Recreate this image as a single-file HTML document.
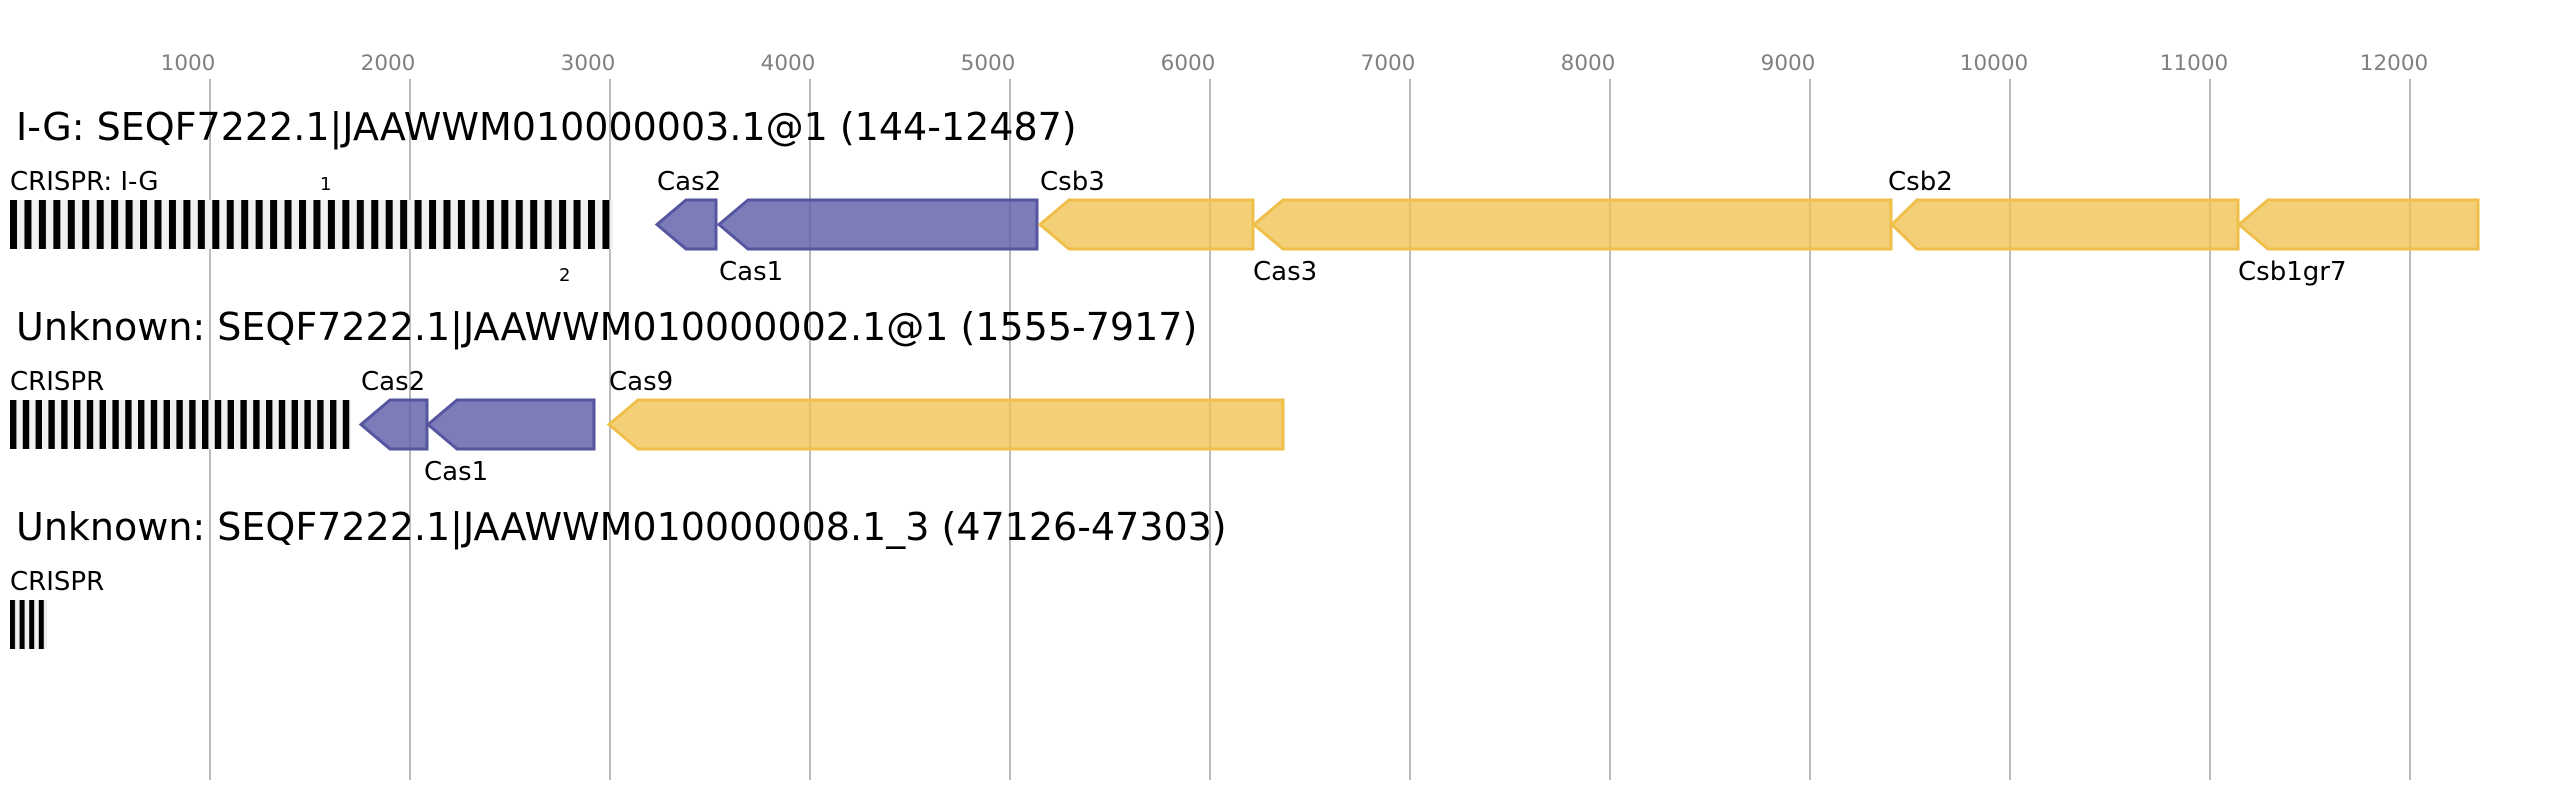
<!DOCTYPE html>
<html><head><meta charset="utf-8"><style>body{margin:0;background:#fff}svg{display:block}text{font-family:"DejaVu Sans","Liberation Sans",sans-serif}</style></head><body>
<svg width="2569" height="800" viewBox="0 0 2569 800" xmlns="http://www.w3.org/2000/svg">
<defs>
<pattern id="p1" x="10" y="0" width="14.45" height="10" patternUnits="userSpaceOnUse"><rect width="14.45" height="10" fill="#f0f0f0"/><rect width="7" height="10" fill="#000"/></pattern>
<pattern id="p2" x="10" y="0" width="12.8" height="10" patternUnits="userSpaceOnUse"><rect width="12.8" height="10" fill="#f0f0f0"/><rect width="6.4" height="10" fill="#000"/></pattern>
<pattern id="p3" x="10" y="0" width="9.6" height="10" patternUnits="userSpaceOnUse"><rect width="9.6" height="10" fill="#f0f0f0"/><rect width="5" height="10" fill="#000"/></pattern>
</defs>
<g fill="#808080" font-size="21.5" text-anchor="middle">
<text x="188" y="70">1000</text><text x="388" y="70">2000</text><text x="588" y="70">3000</text><text x="788" y="70">4000</text><text x="988" y="70">5000</text><text x="1188" y="70">6000</text><text x="1388" y="70">7000</text><text x="1588" y="70">8000</text><text x="1788" y="70">9000</text><text x="1994" y="70">10000</text><text x="2194" y="70">11000</text><text x="2394" y="70">12000</text>
</g>
<g stroke="#bbb" stroke-width="2">
<line x1="210" y1="79" x2="210" y2="780"/><line x1="410" y1="79" x2="410" y2="780"/><line x1="610" y1="79" x2="610" y2="780"/><line x1="810" y1="79" x2="810" y2="780"/><line x1="1010" y1="79" x2="1010" y2="780"/><line x1="1210" y1="79" x2="1210" y2="780"/><line x1="1410" y1="79" x2="1410" y2="780"/><line x1="1610" y1="79" x2="1610" y2="780"/><line x1="1810" y1="79" x2="1810" y2="780"/><line x1="2010" y1="79" x2="2010" y2="780"/><line x1="2210" y1="79" x2="2210" y2="780"/><line x1="2410" y1="79" x2="2410" y2="780"/>
</g>
<g fill="#000">
<text x="16" y="140" font-size="38">I-G: SEQF7222.1|JAAWWM010000003.1@1 (144-12487)</text>
<text x="16" y="340" font-size="38">Unknown: SEQF7222.1|JAAWWM010000002.1@1 (1555-7917)</text>
<text x="16" y="540" font-size="38">Unknown: SEQF7222.1|JAAWWM010000008.1_3 (47126-47303)</text>
<g font-size="26">
<text x="10" y="190">CRISPR: I-G</text><text x="657" y="190">Cas2</text><text x="719" y="280">Cas1</text><text x="1040" y="190">Csb3</text><text x="1253" y="280">Cas3</text><text x="1888" y="190">Csb2</text><text x="2238" y="280">Csb1gr7</text>
<text x="10" y="390">CRISPR</text><text x="361" y="390">Cas2</text><text x="424" y="480">Cas1</text><text x="609" y="390">Cas9</text>
<text x="10" y="590">CRISPR</text>
</g>
<text x="320" y="190" font-size="18">1</text><text x="559" y="281" font-size="18">2</text>
</g>
<rect x="10" y="200" width="603" height="49" fill="url(#p1)"/>
<rect x="10" y="400" width="341" height="49" fill="url(#p2)"/>
<rect x="10" y="600" width="37" height="49" fill="url(#p3)"/>
<g fill="#5b5ba8" fill-opacity="0.8" stroke="#5555a0" stroke-width="3">
<polygon points="657,224.5 686,200 716,200 716,249 686,249"/>
<polygon points="719,224.5 748,200 1037,200 1037,249 748,249"/>
<polygon points="361,424.5 390,400 427,400 427,449 390,449"/>
<polygon points="428,424.5 457,400 594,400 594,449 457,449"/>
</g>
<g fill="#efbf4a" fill-opacity="0.75" stroke="#efbf4a" stroke-width="3">
<polygon points="1040,224.5 1069,200 1253,200 1253,249 1069,249"/>
<polygon points="1254,224.5 1283,200 1891,200 1891,249 1283,249"/>
<polygon points="1892,224.5 1917,200 2238,200 2238,249 1917,249"/>
<polygon points="2239,224.5 2268,200 2478,200 2478,249 2268,249"/>
<polygon points="609,424.5 638,400 1283,400 1283,449 638,449"/>
</g>
</svg>
</body></html>
